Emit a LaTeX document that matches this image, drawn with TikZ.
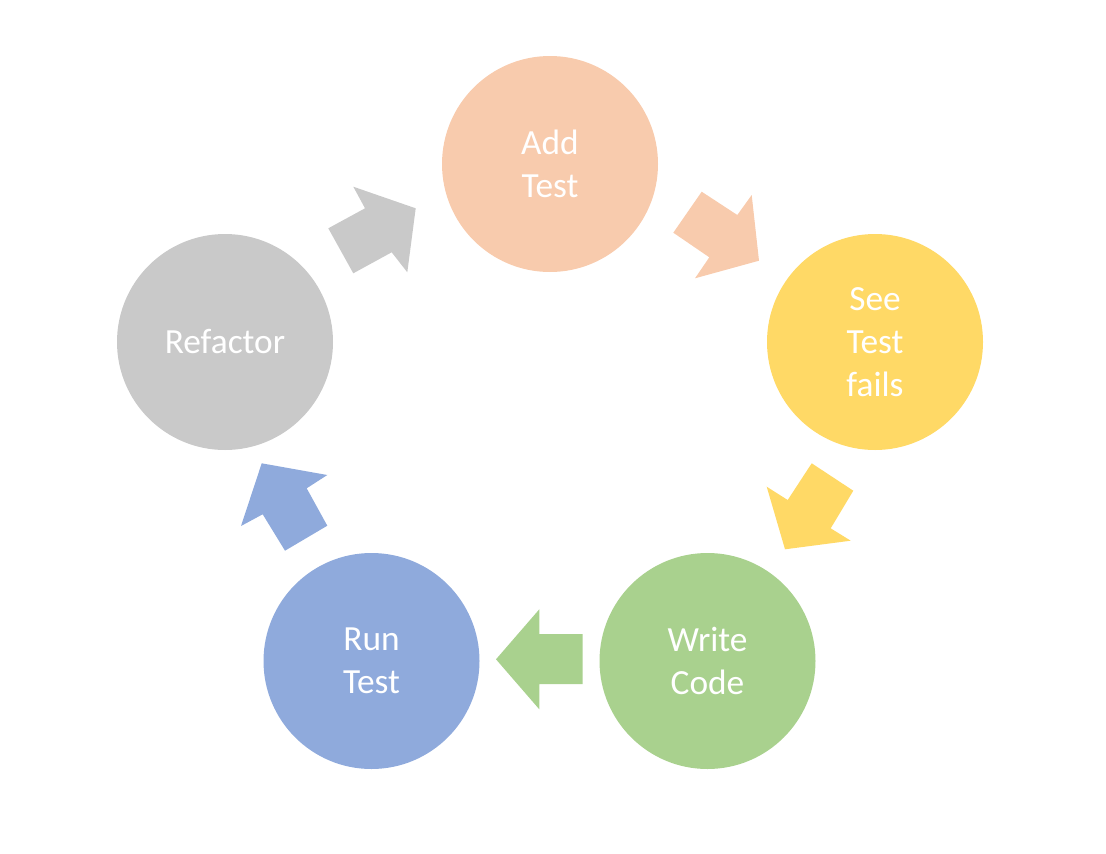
\documentclass[tikz,border=0pt]{standalone}
\usepackage{fontspec}
\setmainfont{Carlito}
\definecolor{cpeach}{HTML}{F8CBAD}
\definecolor{cyellow}{HTML}{FFD966}
\definecolor{cgreen}{HTML}{A9D18E}
\definecolor{cblue}{HTML}{8FAADC}
\definecolor{cgray}{HTML}{C9C9C9}
\begin{document}
\begin{tikzpicture}[x=0.75pt,y=-0.75pt,
  stepcircle/.style={circle,minimum size=162pt,inner sep=0pt,text=white,
    font=\fontsize{26.5}{32.3}\selectfont,align=center},
  blockarrow/.style={draw=none}]
\useasboundingbox (0,0) rectangle (1106,853);
\node[stepcircle,fill=cpeach]  (add) at (550,164) {Add\\Test};
\node[stepcircle,fill=cyellow] (see) at (875,342) {See\\Test\\fails};
\node[stepcircle,fill=cgreen]  (write) at (707.5,661) {Write\\Code};
\node[stepcircle,fill=cblue]   (run) at (371.5,661) {Run\\Test};
\node[stepcircle,fill=cgray]   (ref) at (225,342) {Refactor};
% block arrows
\fill[blockarrow,cpeach] (673.3,232.7) -- (701.7,191.7) -- (737.3,215) -- (751.7,195) -- (759,260.7) -- (695,278.3) -- (709.3,257.3) -- cycle;
\fill[blockarrow,cyellow] (811.7,463.3) -- (853.3,490.7) -- (830.7,528.3) -- (850.7,540.7) -- (785,549.3) -- (766.7,486.7) -- (787.7,500) -- cycle;
\fill[blockarrow,cgreen] (582.7,634) -- (582.7,684) -- (539.3,684) -- (539.3,709.3) -- (496,659.3) -- (539.3,609.3) -- (539.3,634) -- cycle;
\fill[blockarrow,cblue] (261.7,463.3) -- (327.3,475) -- (306.7,488.3) -- (327.3,525.7) -- (285,550.7) -- (262.7,514.3) -- (241,526) -- cycle;
\fill[blockarrow,cgray] (353.3,186.7) -- (415.7,208.3) -- (407.3,272.3) -- (391.7,252.3) -- (353.3,273.3) -- (328.3,228.3) -- (365,208.3) -- cycle;
\end{tikzpicture}
\end{document}
